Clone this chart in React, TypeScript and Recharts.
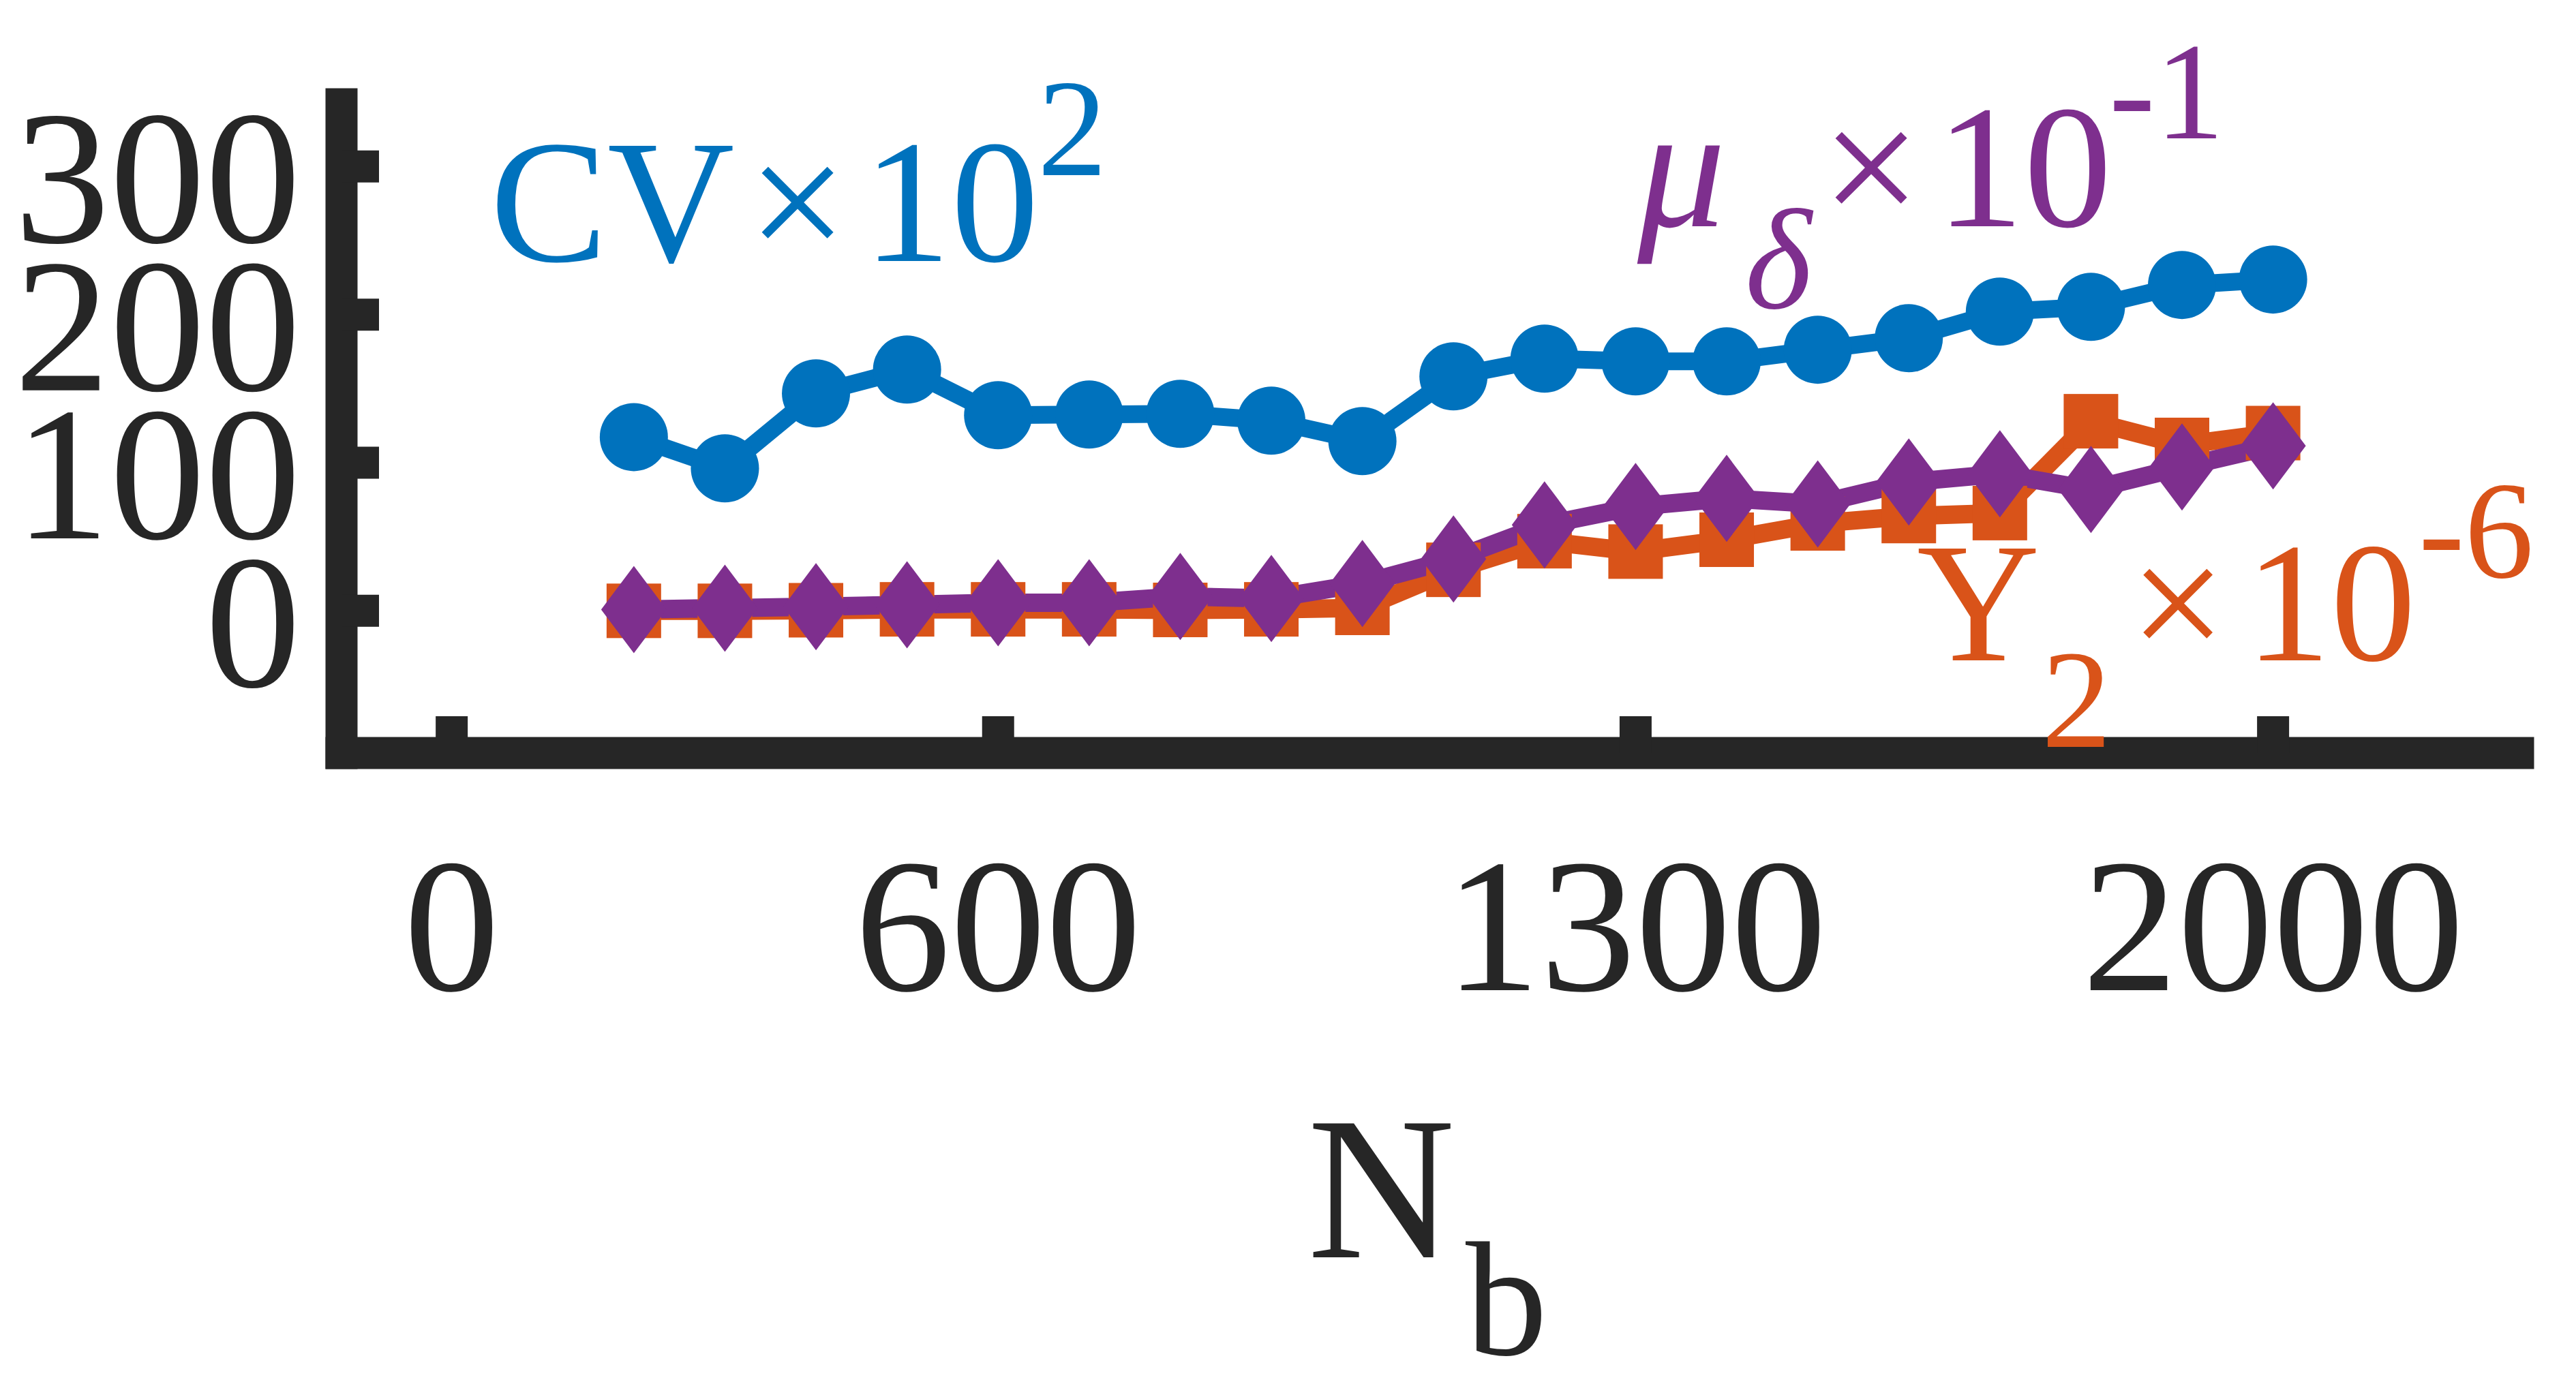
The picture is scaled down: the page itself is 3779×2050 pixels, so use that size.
import React from "react";
import { LineChart, Line, XAxis, YAxis } from "recharts";

// values (CV x1e2, Y2 x1e-6, mu_delta x1e-1)
const N_B = [200, 300, 400, 500, 600, 700, 800, 900, 1000, 1100, 1200, 1300, 1400, 1500, 1600, 1700, 1800, 1900, 2000];
const CV = [117.3, 96.2, 146.8, 162.9, 132.1, 132.5, 133.0, 128.4, 114.6, 158.3, 170.3, 168.4, 168.4, 176.3, 184.1, 202.0, 205.2, 220.0, 223.7];
const Y2 = [0, 0, 0.4, 1, 1, 1, 0.6, 1, 2, 27.7, 47, 40, 48, 59, 64, 66, 128, 112, 120];
const MU = [0.9, 1.8, 2.8, 4.1, 5.5, 5.5, 9.7, 8.3, 18.4, 35, 58, 70.4, 75.9, 72.2, 87, 92.5, 81.9, 97.1, 111.4];
const X_TICKS = [0, 600, 1300, 2000];
const Y_TICKS = [0, 100, 200, 300];

const data = N_B.map((n, i) => ({ n, cv: CV[i], y2: Y2[i], mu: MU[i] }));

const W = 3779;
const H = 2050;
const AX = "#262626";
const BLUE = "#0072BD";
const ORANGE = "#D95319";
const PURPLE = "#7E2F8E";
const FONT = "'Liberation Serif', 'Times New Roman', serif";

const YTick = (p: any) => (
  <g>
    <line x1={p.x} x2={p.x + 55} y1={p.y} y2={p.y} stroke={AX} strokeWidth={47} />
    <text x={441} y={p.y + 111} textAnchor="end" fontSize={280} fontFamily={FONT} fill={AX}>
      {p.payload.value}
    </text>
  </g>
);

const XTick = (p: any) => (
  <g>
    <line x1={p.x} x2={p.x} y1={p.y} y2={p.y - 54} stroke={AX} strokeWidth={47} />
    <text x={p.x} y={p.y + 348} textAnchor="middle" fontSize={280} fontFamily={FONT} fill={AX}>
      {p.payload.value}
    </text>
  </g>
);

const circleDot = (p: any) => <circle key={`c${p.index}`} cx={p.cx} cy={p.cy} r={50} fill={BLUE} />;
const squareDot = (p: any) => <rect key={`s${p.index}`} x={p.cx - 40} y={p.cy - 40} width={80} height={80} fill={ORANGE} />;
const diamondDot = (p: any) => (
  <polygon
    key={`m${p.index}`}
    points={`${p.cx},${p.cy - 64} ${p.cx + 48},${p.cy} ${p.cx},${p.cy + 64} ${p.cx - 48},${p.cy}`}
    fill={PURPLE}
  />
);

function Annotations() {
  const t = { fontFamily: FONT } as const;
  return (
    <svg width={W} height={H} style={{ position: "absolute", left: 0, top: 0, pointerEvents: "none" }}>
      {/* CV x 10^2 */}
      <g fill={BLUE} {...t}>
        <text x={719} y={383} fontSize={258}>CV</text>
        <text x={1170} y={383} fontSize={258} textAnchor="middle">×</text>
        <text x={1266} y={383} fontSize={258}>10</text>
        <text x={1522} y={257} fontSize={204}>2</text>
      </g>
      {/* mu_delta x 10^-1 */}
      <g fill={PURPLE} {...t}>
        <text x={2402} y={332} fontSize={258} fontStyle="italic">μ</text>
        <text x={2560} y={452} fontSize={210} fontStyle="italic">δ</text>
        <text x={2745} y={332} fontSize={258} textAnchor="middle">×</text>
        <text x={2840} y={332} fontSize={258}>10</text>
        <text x={3094} y={203} fontSize={203}>-1</text>
      </g>
      {/* Y_2 x 10^-6 */}
      <g fill={ORANGE} {...t}>
        <text x={2812} y={969} fontSize={250}>Y</text>
        <text x={2995} y={1096} fontSize={205}>2</text>
        <text x={3195} y={969} fontSize={250} textAnchor="middle">×</text>
        <text x={3294} y={969} fontSize={250}>10</text>
        <text x={3548} y={847} fontSize={203}>-6</text>
      </g>
      {/* axis label N_b */}
      <g fill={AX} {...t}>
        <text x={1918} y={1845} fontSize={300}>N</text>
        <text x={2150} y={1988} fontSize={240}>b</text>
      </g>
    </svg>
  );
}

export default function App() {
  return (
    <div style={{ position: "absolute", left: 0, top: 0, width: W, height: H, background: "#fff" }}>
      <LineChart width={W} height={H} data={data} margin={{ top: 153, right: 85, bottom: 0, left: 0 }}>
        <XAxis
          dataKey="n"
          type="number"
          domain={[-121, 2269]}
          ticks={X_TICKS}
          interval={0}
          allowDataOverflow
          height={945}
          tickSize={0}
          tickMargin={0}
          tickLine={false}
          axisLine={{ stroke: AX, strokeWidth: 47, strokeLinecap: "square" }}
          tick={(p: any) => <XTick {...p} />}
        />
        <YAxis
          type="number"
          domain={[-96, 342]}
          ticks={Y_TICKS}
          interval={0}
          allowDataOverflow
          width={501}
          tickSize={0}
          tickMargin={0}
          tickLine={false}
          axisLine={{ stroke: AX, strokeWidth: 47, strokeLinecap: "square" }}
          tick={(p: any) => <YTick {...p} />}
        />
        <Line dataKey="cv" stroke={BLUE} strokeWidth={26} strokeLinejoin="miter" dot={circleDot} activeDot={false} isAnimationActive={false} />
        <Line dataKey="y2" stroke={ORANGE} strokeWidth={27} strokeLinejoin="miter" dot={squareDot} activeDot={false} isAnimationActive={false} />
        <Line dataKey="mu" stroke={PURPLE} strokeWidth={27} strokeLinejoin="miter" dot={diamondDot} activeDot={false} isAnimationActive={false} />
      </LineChart>
      <Annotations />
    </div>
  );
}
